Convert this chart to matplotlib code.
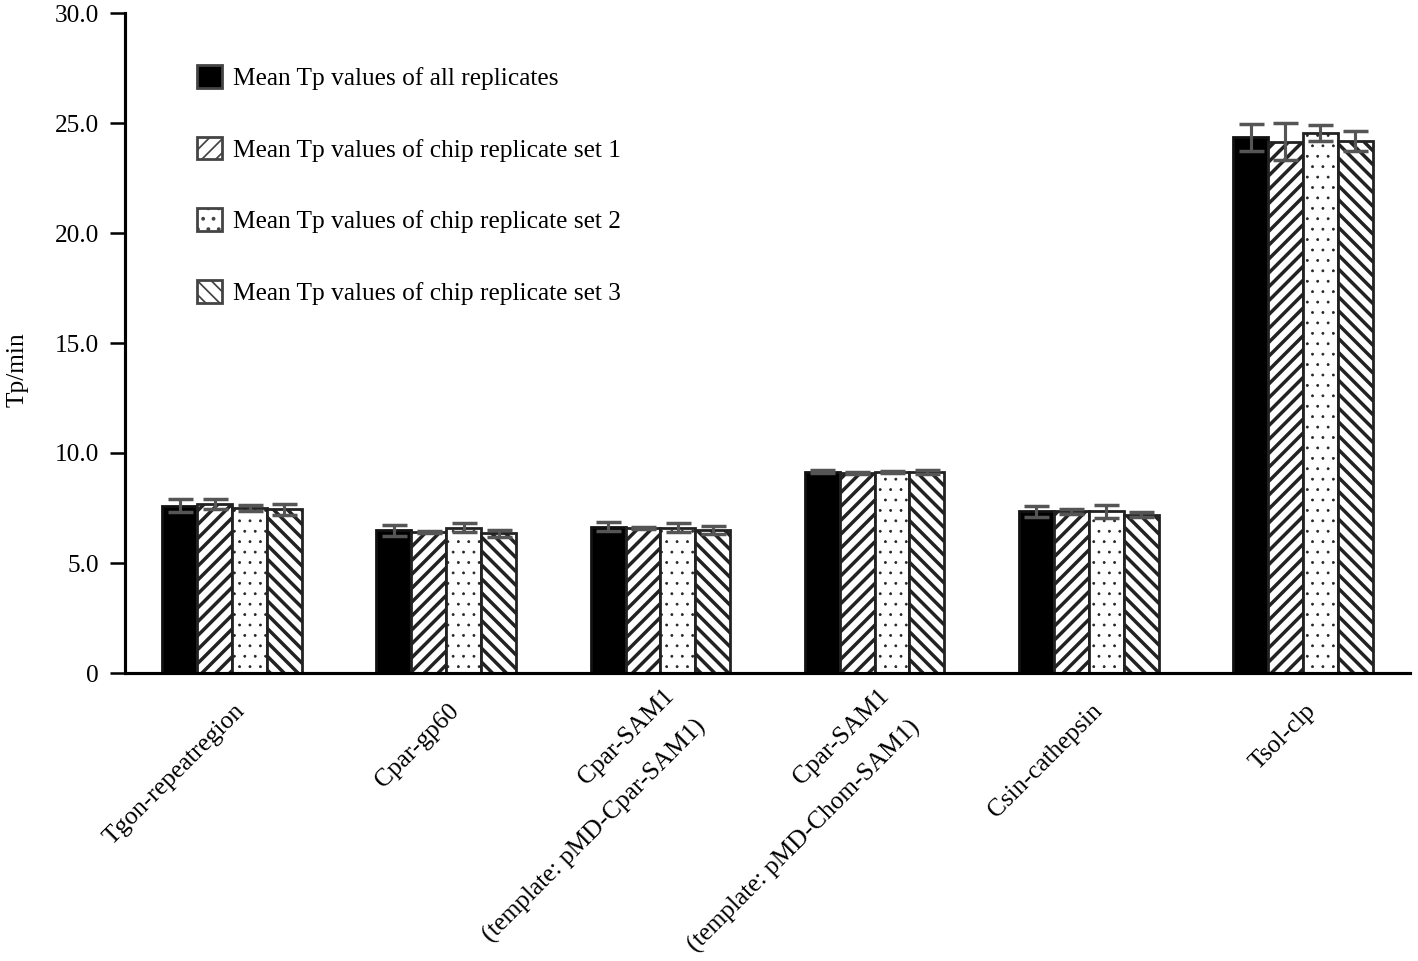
import matplotlib
matplotlib.use('Agg')
import matplotlib.pyplot as plt
import numpy as np
from matplotlib.transforms import ScaledTranslation
from matplotlib.patches import Patch

categories = ["Tgon-repeatregion", "Cpar-gp60",
              "Cpar-SAM1\n(template: pMD-Cpar-SAM1)",
              "Cpar-SAM1\n(template: pMD-Chom-SAM1)",
              "Csin-cathepsin", "Tsol-clp"]
series_labels = ["Mean Tp values of all replicates",
                 "Mean Tp values of chip replicate set 1",
                 "Mean Tp values of chip replicate set 2",
                 "Mean Tp values of chip replicate set 3"]
mean_all = [7.6, 6.5, 6.65, 9.15, 7.35, 24.35]
mean_set1 = [7.7, 6.4, 6.6, 9.1, 7.35, 24.15]
mean_set2 = [7.5, 6.6, 6.6, 9.15, 7.35, 24.55]
mean_set3 = [7.45, 6.35, 6.5, 9.15, 7.2, 24.2]
err_all = [0.3, 0.25, 0.2, 0.08, 0.25, 0.62]
err_set1 = [0.23, 0.05, 0.05, 0.05, 0.12, 0.85]
err_set2 = [0.15, 0.2, 0.2, 0.05, 0.3, 0.35]
err_set3 = [0.25, 0.17, 0.2, 0.1, 0.12, 0.45]
yticks = [0, 5, 10, 15, 20, 25, 30]
ytick_labels = ["0", "5.0", "10.0", "15.0", "20.0", "25.0", "30.0"]
ylabel = "Tp/min"

DPI = 125
W, H = 1418, 961
plt.rcParams['font.family'] = ['Liberation Serif', 'DejaVu Serif']
FS = 14.6

fig = plt.figure(figsize=(W / DPI, H / DPI), dpi=DPI)
ax = fig.add_axes([125 / W, 1 - 673 / H, (1410 - 125) / W, (673 - 13) / H])

means = [mean_all, mean_set1, mean_set2, mean_set3]
errs = [err_all, err_set1, err_set2, err_set3]
faces = ['black', 'white', 'white', 'white']
edges = ['#111111', '#222222', '#222222', '#222222']
hatches = [None, '///', '..', '\\\\\\']
hatch_lws = [1.0, 2.0, 0.4, 2.0]

x = np.arange(len(categories))
w = 0.163
offsets = [-1.5, -0.5, 0.5, 1.5]

handles = []
for i in range(4):
    with plt.rc_context({'hatch.linewidth': hatch_lws[i], 'hatch.color': 'black'}):
        bars = ax.bar(x + offsets[i] * w, means[i], width=w, color=faces[i],
                      edgecolor=edges[i], linewidth=1.6, hatch=hatches[i], zorder=2)
        for r in bars.patches:
            if hasattr(r, 'set_hatch_linewidth'):
                r.set_hatch_linewidth(hatch_lws[i])
        h = Patch(facecolor=faces[i], edgecolor='#444444', linewidth=1.6, hatch=hatches[i])
        if hasattr(h, 'set_hatch_linewidth'):
            h.set_hatch_linewidth(hatch_lws[i])
        handles.append(h)
    ax.errorbar(x + offsets[i] * w, means[i], yerr=errs[i], fmt='none',
                ecolor='#555555', elinewidth=1.8, capsize=7.2, capthick=2.0, zorder=3)

ax.set_xlim(-0.5, 5.5)
ax.set_ylim(0, 30)
ax.set_yticks(yticks)
ax.set_yticklabels(ytick_labels, fontsize=FS)

for s in ['top', 'right']:
    ax.spines[s].set_visible(False)
for s in ['left', 'bottom']:
    ax.spines[s].set_linewidth(1.8)
    ax.spines[s].set_color('black')
ax.tick_params(axis='y', direction='out', length=8.6, width=1.45, pad=6.4, colors='black')
ax.tick_params(axis='x', length=0, pad=15.6)

ax.set_xticks(x)
ax.set_xticklabels(categories, fontsize=FS, rotation=45, ha='right', va='top',
                   rotation_mode='anchor', multialignment='right', linespacing=2.2)
for lab in ax.get_xticklabels():
    if '\n' in lab.get_text():
        off = ScaledTranslation(3 / DPI, 15 / DPI, fig.dpi_scale_trans)
    else:
        off = ScaledTranslation(2 / DPI, 0, fig.dpi_scale_trans)
    lab.set_transform(lab.get_transform() + off)

fig.text(18 / W, 1 - 370 / H, ylabel, rotation=90, ha='center', va='center', fontsize=FS)

leg = ax.legend(handles, series_labels, loc='upper left',
                bbox_to_anchor=(197 / W, 1 - 65 / H), bbox_transform=fig.transFigure,
                frameon=False, fontsize=FS, handlelength=1.0, handleheight=1.0,
                handletextpad=0.43, labelspacing=1.84, borderpad=0, borderaxespad=0)

fig.savefig('out.png', dpi=DPI)
